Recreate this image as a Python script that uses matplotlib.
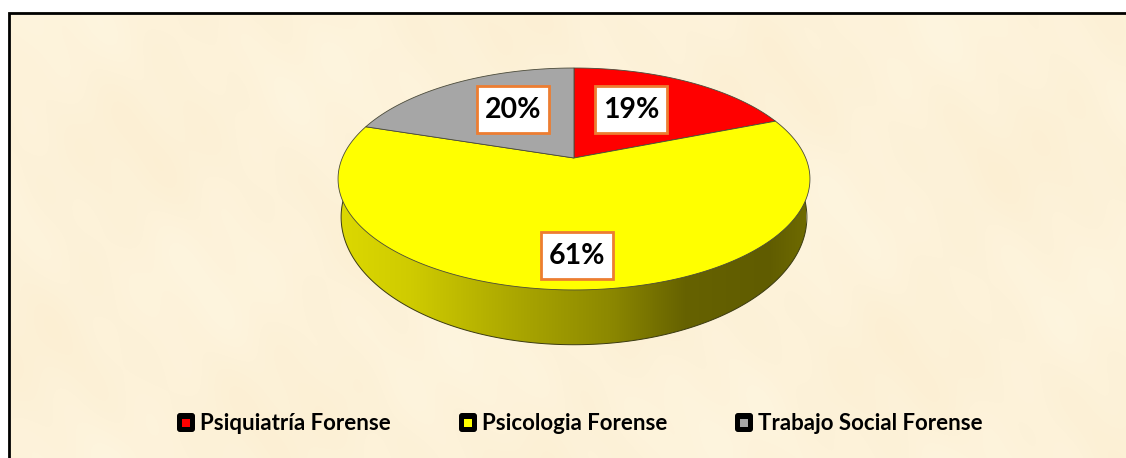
import numpy as np
import matplotlib
matplotlib.use('Agg')
import matplotlib.pyplot as plt
from matplotlib.patches import Polygon, Rectangle, FancyBboxPatch
from matplotlib.colors import LinearSegmentedColormap

categories = ['Psiquiatría Forense', 'Psicologia Forense', 'Trabajo Social Forense']
shares = [19, 61, 20]
labels = ['19%', '61%', '20%']
colors = ['#ff0000', '#ffff00', '#a6a6a6']

W, H = 1126, 458
CX, CY = 574, 158
A, B, K = 231.7, 107, 0.189

plt.rcParams['font.family'] = ['Lato', 'DejaVu Sans']


# pie plane -> picture, a circle seen in perspective
def project(theta, sx=1.0, sy=1.0, dy=0):
    x = np.sin(theta)
    y = np.cos(theta)
    d = 1 + K * y
    return np.column_stack([CX + sx * A * x / d, CY - sy * B * y / d + dy])


def background():
    yy, xx = np.mgrid[0:H, 0:W]
    m = (np.sin(xx / 47.0 + yy / 83.0) + np.sin(xx / 131.0 - yy / 37.0 + 1.3)
         + 0.6 * np.sin(xx / 19.0 + 2.1) * np.sin(yy / 23.0)
         + 0.5 * np.sin(xx / 11.0 - yy / 17.0)) / 3.1
    base = np.array([253, 242, 217], dtype=float)
    tint = np.array([1.0, 3.0, 6.0])
    return np.clip(base + m[..., None] * tint, 0, 255).astype(np.uint8)


fig = plt.figure(figsize=(W / 100, H / 100), dpi=100)
ax = fig.add_axes([0, 0, 1, 1])
ax.set_xlim(0, W)
ax.set_ylim(H, 0)
ax.axis('off')

ax.imshow(background(), extent=[0, W, H, 0], aspect='auto', zorder=0, interpolation='bilinear')
# white margin and the black rule on top and left
ax.add_patch(Rectangle((0, 0), W, 12, fc='white', ec='none', zorder=1))
ax.add_patch(Rectangle((0, 0), 8, H, fc='white', ec='none', zorder=1))
ax.plot([9, 9, W], [H, 13, 13], color='black', lw=2, solid_joinstyle='miter', zorder=2)

# side of the disc: lower rim, the top face hides the rest
lower = project(np.linspace(0, 2 * np.pi, 500), 0.987, 1.15, 35)
cmap = LinearSegmentedColormap.from_list('side', [
    (0.0, '#dcd800'), (0.15, '#cfcb00'), (0.38, '#aaa600'), (0.58, '#8c8800'),
    (0.74, '#666200'), (0.92, '#605c00'), (1.0, '#6e6a00')])
grad = ax.imshow(np.linspace(0, 1, 256)[None, :], extent=[341, 806, 350, 80], cmap=cmap,
                 aspect='auto', zorder=3)
clip = Polygon(lower, closed=True, transform=ax.transData, fc='none', ec='#3a3a10', lw=0.7, zorder=4)
ax.add_patch(clip)
grad.set_clip_path(clip)

# slices, clockwise from the top
start = 0.0
total = float(sum(shares))
for share, color in zip(shares, colors):
    end = start + share / total * 2 * np.pi
    rim = project(np.linspace(start, end, 200))
    pts = np.vstack([[CX, CY], rim])
    ax.add_patch(Polygon(pts, closed=True, fc=color, ec='#4a4a3a', lw=0.6, zorder=5))
    start = end

# data labels
label_boxes = [(595, 86), (541, 232), (477, 86)]
for (bx, by), text in zip(label_boxes, labels):
    ax.add_patch(Rectangle((bx, by), 72, 47, fc='white', ec='#ed7d31', lw=2, zorder=6))
    ax.text(bx + 36, by + 24, text, ha='center', va='center', fontsize=20.5,
            fontweight='bold', color='black', zorder=7)

# legend
legend_x = [177, 459, 735]
for lx, name, color in zip(legend_x, categories, colors):
    ax.add_patch(FancyBboxPatch((lx + 2, 415), 14, 15, boxstyle='round,pad=2,rounding_size=3',
                                fc='black', ec='none', zorder=6))
    ax.add_patch(Rectangle((lx + 5, 418.5), 8, 8, fc=color, ec='none', zorder=7))
    ax.text(lx + 23, 424, name, ha='left', va='center', fontsize=16,
            fontweight='bold', color='black', zorder=7)

fig.savefig('out.png', dpi=100)
